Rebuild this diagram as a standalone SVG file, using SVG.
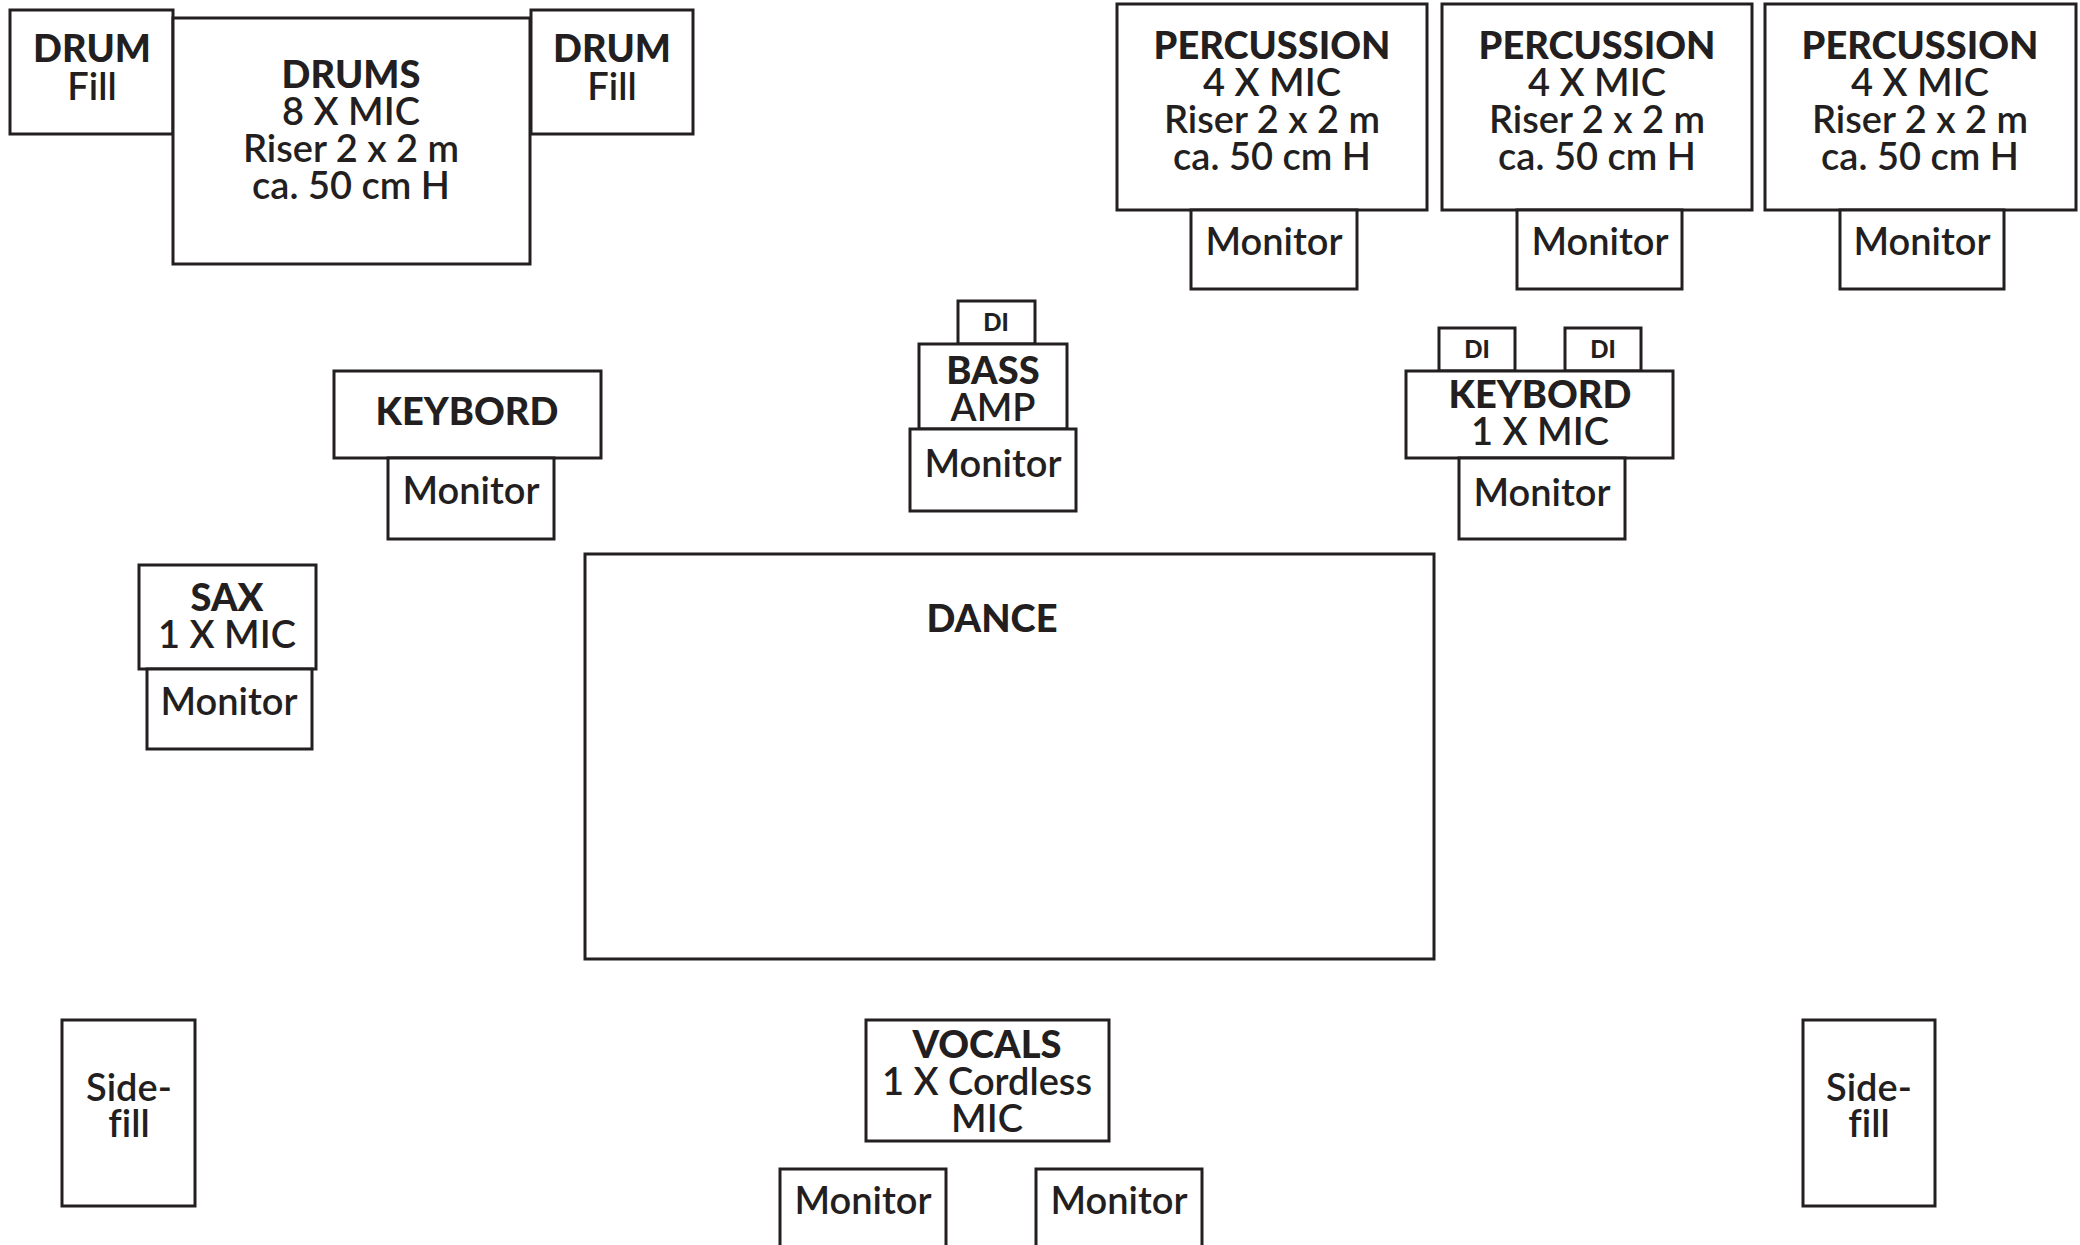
<svg xmlns="http://www.w3.org/2000/svg" width="2080" height="1245" viewBox="0 0 2080 1245">
<style>
rect{fill:#fff;stroke:#231f20;stroke-width:3}
text{font-family:Lato,"Open Sans","Liberation Sans",sans-serif;fill:#231f20;text-anchor:middle;font-size:38px;font-weight:600;font-variant-ligatures:none}
.b{font-weight:900}
.di{font-size:24px;font-weight:900}
</style>
<rect x="0" y="0" width="2080" height="1245" style="stroke:none"/>
<g id="drum-fill-left"><rect x="10" y="10" width="163" height="124"/><text class="b" x="92" y="62">DRUM</text><text x="92" y="100">Fill</text></g>
<g id="drums"><rect x="173" y="18" width="357" height="246"/><text class="b" x="351" y="88">DRUMS</text><text x="351" y="125">8 X MIC</text><text x="351" y="162">Riser 2 x 2 m</text><text x="351" y="199">ca. 50 cm H</text></g>
<g id="drum-fill-right"><rect x="531" y="10" width="162" height="124"/><text class="b" x="612" y="62">DRUM</text><text x="612" y="100">Fill</text></g>
<g id="percussion-1"><rect x="1117" y="4" width="310" height="206"/><text class="b" x="1272" y="59">PERCUSSION</text><text x="1272" y="96">4 X MIC</text><text x="1272" y="133">Riser 2 x 2 m</text><text x="1272" y="170">ca. 50 cm H</text></g>
<g id="percussion-1-monitor"><rect x="1191" y="210" width="166" height="79"/><text x="1274" y="255">Monitor</text></g>
<g id="percussion-2"><rect x="1442" y="4" width="310" height="206"/><text class="b" x="1597" y="59">PERCUSSION</text><text x="1597" y="96">4 X MIC</text><text x="1597" y="133">Riser 2 x 2 m</text><text x="1597" y="170">ca. 50 cm H</text></g>
<g id="percussion-2-monitor"><rect x="1517" y="210" width="165" height="79"/><text x="1600" y="255">Monitor</text></g>
<g id="percussion-3"><rect x="1765" y="4" width="311" height="206"/><text class="b" x="1920" y="59">PERCUSSION</text><text x="1920" y="96">4 X MIC</text><text x="1920" y="133">Riser 2 x 2 m</text><text x="1920" y="170">ca. 50 cm H</text></g>
<g id="percussion-3-monitor"><rect x="1840" y="210" width="164" height="79"/><text x="1922" y="255">Monitor</text></g>
<g id="keybord-left"><rect x="334" y="371" width="267" height="87"/><text class="b" x="467" y="425">KEYBORD</text></g>
<g id="keybord-left-monitor"><rect x="388" y="458" width="166" height="81"/><text x="471" y="504">Monitor</text></g>
<g id="bass-di"><rect x="958" y="301" width="77" height="43"/><text class="di" x="996" y="331">DI</text></g>
<g id="bass-amp"><rect x="919" y="344" width="148" height="85"/><text class="b" x="993" y="384">BASS</text><text x="993" y="421">AMP</text></g>
<g id="bass-monitor"><rect x="910" y="429" width="166" height="82"/><text x="993" y="477">Monitor</text></g>
<g id="keybord-right-di-1"><rect x="1439" y="328" width="76" height="43"/><text class="di" x="1477" y="358">DI</text></g>
<g id="keybord-right-di-2"><rect x="1565" y="328" width="76" height="43"/><text class="di" x="1603" y="358">DI</text></g>
<g id="keybord-right"><rect x="1406" y="371" width="267" height="87"/><text class="b" x="1540" y="408">KEYBORD</text><text x="1540" y="445">1 X MIC</text></g>
<g id="keybord-right-monitor"><rect x="1459" y="458" width="166" height="81"/><text x="1542" y="506">Monitor</text></g>
<g id="sax"><rect x="139" y="565" width="177" height="104"/><text class="b" x="227" y="611">SAX</text><text x="227" y="648">1 X MIC</text></g>
<g id="sax-monitor"><rect x="147" y="669" width="165" height="80"/><text x="229" y="715">Monitor</text></g>
<g id="dance"><rect x="585" y="554" width="849" height="405"/><text class="b" x="992" y="632">DANCE</text></g>
<g id="side-fill-left"><rect x="62" y="1020" width="133" height="186"/><text x="129" y="1101">Side-</text><text x="129" y="1137">fill</text></g>
<g id="vocals"><rect x="866" y="1020" width="243" height="121"/><text class="b" x="987" y="1058">VOCALS</text><text x="987" y="1095">1 X Cordless</text><text x="987" y="1132">MIC</text></g>
<g id="vocals-monitor-left"><rect x="780" y="1169" width="166" height="90"/><text x="863" y="1214">Monitor</text></g>
<g id="vocals-monitor-right"><rect x="1036" y="1169" width="166" height="90"/><text x="1119" y="1214">Monitor</text></g>
<g id="side-fill-right"><rect x="1803" y="1020" width="132" height="186"/><text x="1869" y="1101">Side-</text><text x="1869" y="1137">fill</text></g>
</svg>
